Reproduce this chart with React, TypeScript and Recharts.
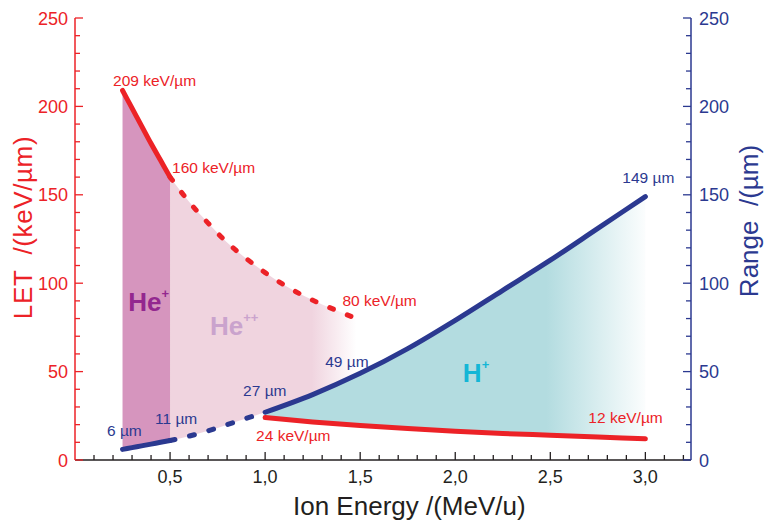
import React from "react";
import { Area, ComposedChart, Label, Line, ReferenceDot, XAxis, YAxis } from "recharts";

const RED = "#ec2227";
const BLUE = "#2b3990";
const INK = "#231f20";
const FONT = '"Liberation Sans", Arial, sans-serif';

// He+ : 0.25 – 0.5 MeV/u
const heSingleEnergy = [0.25, 0.3, 0.35, 0.4, 0.45, 0.5];
const heSingleLet = [209, 199, 189, 179, 169.5, 160];
const heSingleRange = [6, 7, 8, 9, 10, 11];

// He++ : 0.5 – 1.5 MeV/u (dashed)
const heDoubleEnergy = [0.5, 0.6, 0.7, 0.8, 0.9, 1.0, 1.1, 1.2, 1.3, 1.4, 1.48];
const heDoubleLet = [160, 146, 134, 123, 114, 106, 99, 93, 88, 83.5, 80];
const heDoubleFloor = [11, 13.5, 16.5, 20, 23.5, 27, 31, 35, 39.5, 44, 48];
const heDoubleRangeEnergy = [0.5, 0.6, 0.7, 0.8, 0.9, 1.0];
const heDoubleRange = [11, 13.5, 16.5, 20, 23.5, 27];

// H+ : 1 – 3 MeV/u
const protonEnergy = [1.0, 1.25, 1.5, 1.75, 2.0, 2.25, 2.5, 2.75, 3.0];
const protonLet = [24, 21.5, 19.5, 17.8, 16.3, 15, 14, 13, 12];
const protonRange = [27, 37, 49, 63, 79, 96, 113, 131, 149];

const energyTicks = [
  0.1, 0.2, 0.3, 0.4, 0.5, 0.6, 0.7, 0.8, 0.9, 1.0, 1.1, 1.2, 1.3, 1.4, 1.5, 1.6,
  1.7, 1.8, 1.9, 2.0, 2.1, 2.2, 2.3, 2.4, 2.5, 2.6, 2.7, 2.8, 2.9, 3.0, 3.1, 3.2,
];
const energyLabels = [0.5, 1.0, 1.5, 2.0, 2.5, 3.0];
const valueTicks = [
  0, 10, 20, 30, 40, 50, 60, 70, 80, 90, 100, 110, 120, 130, 140, 150, 160, 170,
  180, 190, 200, 210, 220, 230, 240, 250,
];
const valueLabels = [0, 50, 100, 150, 200, 250];

type Row = { e: number; [key: string]: number | number[] | undefined };
const rowMap = new Map<string, Row>();
function put(xs: number[], key: string, vals: (number | number[])[]) {
  xs.forEach((x, i) => {
    const k = x.toFixed(2);
    const row = rowMap.get(k) ?? { e: x };
    row[key] = vals[i];
    rowMap.set(k, row);
  });
}
put(heSingleEnergy, "letHe1", heSingleLet);
put(heSingleEnergy, "rangeHe1", heSingleRange);
put(heSingleEnergy, "bandHe1", heSingleEnergy.map((_, i) => [heSingleRange[i], heSingleLet[i]]));
put(heDoubleEnergy, "letHe2", heDoubleLet);
put(heDoubleEnergy, "bandHe2", heDoubleEnergy.map((_, i) => [heDoubleFloor[i], heDoubleLet[i]]));
put(heDoubleRangeEnergy, "rangeHe2", heDoubleRange);
put(protonEnergy, "letH", protonLet);
put(protonEnergy, "rangeH", protonRange);
put(protonEnergy, "bandH", protonEnergy.map((_, i) => [protonLet[i], protonRange[i]]));
const rows = [...rowMap.values()].sort((a, b) => a.e - b.e);

const near = (list: number[], v: number) => list.some((m) => Math.abs(m - v) < 1e-6);

function BottomTick({ x, y, payload }: any) {
  const major = near(energyLabels, payload.value);
  return (
    <g>
      <line x1={x} x2={x} y1={y} y2={y - (major ? 8 : 5)} stroke={INK} strokeWidth={1.3} />
      {major && (
        <text x={x} y={y + 23} textAnchor="middle" fontSize={18} fill={INK} fontFamily={FONT}>
          {payload.value.toFixed(1).replace(".", ",")}
        </text>
      )}
    </g>
  );
}

function TopTick({ x, y, payload }: any) {
  const major = near(energyLabels, payload.value);
  return <line x1={x} x2={x} y1={y} y2={y + (major ? 8 : 5)} stroke={INK} strokeWidth={1.3} />;
}

function LeftTick({ x, y, payload }: any) {
  const major = near(valueLabels, payload.value);
  return (
    <g>
      <line x1={x} x2={x + (major ? 8 : 5)} y1={y} y2={y} stroke={RED} strokeWidth={1.3} />
      {major && (
        <text x={x - 7} y={y + 6.5} textAnchor="end" fontSize={18} fill={RED} fontFamily={FONT}>
          {payload.value}
        </text>
      )}
    </g>
  );
}

function RightTick({ x, y, payload }: any) {
  const major = near(valueLabels, payload.value);
  return (
    <g>
      <line x1={x} x2={x - (major ? 8 : 5)} y1={y} y2={y} stroke={BLUE} strokeWidth={1.3} />
      {major && (
        <text x={x + 8} y={y + 6.5} textAnchor="start" fontSize={18} fill={BLUE} fontFamily={FONT}>
          {payload.value}
        </text>
      )}
    </g>
  );
}

// value call-outs: dx / dy place the text's left edge and mid-line relative to the point
const valueNotes = [
  { axis: "let", x: heSingleEnergy[0], y: heSingleLet[0], unit: "keV/µm", color: RED, dx: -9.5, dy: -10.5 },
  { axis: "let", x: heSingleEnergy[5], y: heSingleLet[5], unit: "keV/µm", color: RED, dx: 2, dy: -10 },
  { axis: "let", x: heDoubleEnergy[10], y: heDoubleLet[10], unit: "keV/µm", color: RED, dx: -14, dy: -18.5 },
  { axis: "let", x: protonEnergy[0], y: protonLet[0], unit: "keV/µm", color: RED, dx: -9, dy: 17.5 },
  { axis: "let", x: protonEnergy[8], y: protonLet[8], unit: "keV/µm", color: RED, dx: -57, dy: -21 },
  { axis: "range", x: heSingleEnergy[0], y: heSingleRange[0], unit: "µm", color: BLUE, dx: -15.5, dy: -19 },
  { axis: "range", x: heSingleEnergy[5], y: heSingleRange[5], unit: "µm", color: BLUE, dx: -15, dy: -22.5 },
  { axis: "range", x: protonEnergy[0], y: protonRange[0], unit: "µm", color: BLUE, dx: -22, dy: -22 },
  { axis: "range", x: protonEnergy[2], y: protonRange[2], unit: "µm", color: BLUE, dx: -35, dy: -11.5 },
  { axis: "range", x: protonEnergy[8], y: protonRange[8], unit: "µm", color: BLUE, dx: -23, dy: -19.5 },
];

const regionNotes = [
  { name: "He", charge: "+", x: 0.28, y: 84, color: "#93278f" },
  { name: "He", charge: "++", x: 0.71, y: 70.5, color: "#caa3cd" },
  { name: "H", charge: "+", x: 2.04, y: 44, color: "#14b6d6" },
];

const axisTitle = (text: string, dx: number, dy: number, color: string, spacing = 0) =>
  (props: any) => {
    const vb = props.viewBox ?? { x: 0, y: 0 };
    const x = vb.x + dx;
    const y = vb.y + dy;
    return (
      <text
        x={x}
        y={y}
        transform={`rotate(-90, ${x}, ${y})`}
        textAnchor="middle"
        fontSize={26}
        fill={color}
        fontFamily={FONT}
        letterSpacing={spacing}
        style={{ whiteSpace: "pre" }}
      >
        {text}
      </text>
    );
  };

export default function App() {
  return (
    <div style={{ position: "absolute", left: 0, top: 0, fontFamily: FONT }}>
      <ComposedChart width={766} height={524} data={rows} margin={{ top: 18, right: 0, bottom: 0, left: 0 }}>
        <defs>
          <linearGradient id="heDoubleFill" x1="0" y1="0" x2="1" y2="0">
            <stop offset="0%" stopColor="#f0d4df" stopOpacity={1} />
            <stop offset="76%" stopColor="#f0d4df" stopOpacity={1} />
            <stop offset="100%" stopColor="#f0d4df" stopOpacity={0} />
          </linearGradient>
          <linearGradient id="protonFill" x1="0" y1="0" x2="1" y2="0">
            <stop offset="0%" stopColor="#b3dce0" stopOpacity={1} />
            <stop offset="74%" stopColor="#b3dce0" stopOpacity={1} />
            <stop offset="100%" stopColor="#b3dce0" stopOpacity={0.05} />
          </linearGradient>
        </defs>

        <XAxis
          xAxisId="bottom"
          dataKey="e"
          type="number"
          domain={[0, 3.24]}
          ticks={energyTicks}
          interval={0}
          tickLine={false}
          tickSize={0}
          tickMargin={0}
          tick={(p: any) => <BottomTick {...p} />}
          axisLine={{ stroke: INK, strokeWidth: 1.5 }}
          height={64}
        >
          <Label
            content={(props: any) => {
              const vb = props.viewBox ?? { x: 0, y: 0 };
              return (
                <text x={vb.x + 218} y={vb.y + 55} fontSize={26} fill={INK} fontFamily={FONT}>
                  Ion Energy /(MeV/u)
                </text>
              );
            }}
          />
        </XAxis>
        <XAxis
          xAxisId="top"
          dataKey="e"
          type="number"
          orientation="top"
          domain={[0, 3.24]}
          ticks={energyTicks}
          interval={0}
          tickLine={false}
          tickSize={0}
          tickMargin={0}
          tick={(p: any) => <TopTick {...p} />}
          axisLine={{ stroke: INK, strokeWidth: 1.5 }}
          height={0}
        />
        <YAxis
          yAxisId="let"
          domain={[0, 250]}
          ticks={valueTicks}
          interval={0}
          tickLine={false}
          tickSize={0}
          tickMargin={0}
          tick={(p: any) => <LeftTick {...p} />}
          axisLine={{ stroke: RED, strokeWidth: 1.5 }}
          width={75}
        >
          <Label content={axisTitle("LET  /(keV/µm)", 32, 209.5, RED, 0.6)} />
        </YAxis>
        <YAxis
          yAxisId="range"
          orientation="right"
          domain={[0, 250]}
          ticks={valueTicks}
          interval={0}
          tickLine={false}
          tickSize={0}
          tickMargin={0}
          tick={(p: any) => <RightTick {...p} />}
          axisLine={{ stroke: BLUE, strokeWidth: 1.5 }}
          width={75}
        >
          <Label content={axisTitle("Range  /(µm)", 67, 203, BLUE)} />
        </YAxis>

        <Area xAxisId="bottom" yAxisId="let" dataKey="bandHe2" type="monotone" stroke="none"
          fill="url(#heDoubleFill)" fillOpacity={1} connectNulls dot={false} activeDot={false} isAnimationActive={false} />
        <Area xAxisId="bottom" yAxisId="let" dataKey="bandHe1" type="monotone" stroke="none"
          fill="#d695be" fillOpacity={1} connectNulls dot={false} activeDot={false} isAnimationActive={false} />
        <Area xAxisId="bottom" yAxisId="let" dataKey="bandH" type="monotone" stroke="none"
          fill="url(#protonFill)" fillOpacity={1} connectNulls dot={false} activeDot={false} isAnimationActive={false} />

        <Line xAxisId="bottom" yAxisId="let" dataKey="letHe2" type="monotone" stroke={RED} strokeWidth={5}
          strokeDasharray="4 15" strokeLinecap="round" connectNulls dot={false} activeDot={false} isAnimationActive={false} />
        <Line xAxisId="bottom" yAxisId="range" dataKey="rangeHe2" type="monotone" stroke={BLUE} strokeWidth={5}
          strokeDasharray="5 15" strokeLinecap="round" connectNulls dot={false} activeDot={false} isAnimationActive={false} />
        <Line xAxisId="bottom" yAxisId="let" dataKey="letHe1" type="monotone" stroke={RED} strokeWidth={5}
          strokeLinecap="round" connectNulls dot={false} activeDot={false} isAnimationActive={false} />
        <Line xAxisId="bottom" yAxisId="range" dataKey="rangeHe1" type="monotone" stroke={BLUE} strokeWidth={5}
          strokeLinecap="round" connectNulls dot={false} activeDot={false} isAnimationActive={false} />
        <Line xAxisId="bottom" yAxisId="let" dataKey="letH" type="monotone" stroke={RED} strokeWidth={5}
          strokeLinecap="round" connectNulls dot={false} activeDot={false} isAnimationActive={false} />
        <Line xAxisId="bottom" yAxisId="range" dataKey="rangeH" type="monotone" stroke={BLUE} strokeWidth={5}
          strokeLinecap="round" connectNulls dot={false} activeDot={false} isAnimationActive={false} />

        {valueNotes.map((n, i) => (
          <ReferenceDot
            key={`v${i}`}
            xAxisId="bottom"
            yAxisId={n.axis}
            x={n.x}
            y={n.y}
            r={0}
            fill="none"
            stroke="none"
            ifOverflow="visible"
            label={(props: any) => {
              const vb = props.viewBox ?? { x: 0, y: 0 };
              return (
                <text x={vb.x + n.dx} y={vb.y + n.dy + 5.6} fontSize={15.5} fill={n.color} fontFamily={FONT}>
                  {`${n.y} ${n.unit}`}
                </text>
              );
            }}
          />
        ))}

        {regionNotes.map((n, i) => (
          <ReferenceDot
            key={`r${i}`}
            xAxisId="bottom"
            yAxisId="let"
            x={n.x}
            y={n.y}
            r={0}
            fill="none"
            stroke="none"
            ifOverflow="visible"
            label={(props: any) => {
              const vb = props.viewBox ?? { x: 0, y: 0 };
              return (
                <text x={vb.x} y={vb.y} fontSize={26} fontWeight="bold" fill={n.color} fontFamily={FONT}>
                  {n.name}
                  <tspan fontSize={13} dy={-13}>{n.charge}</tspan>
                </text>
              );
            }}
          />
        ))}
      </ComposedChart>
    </div>
  );
}
